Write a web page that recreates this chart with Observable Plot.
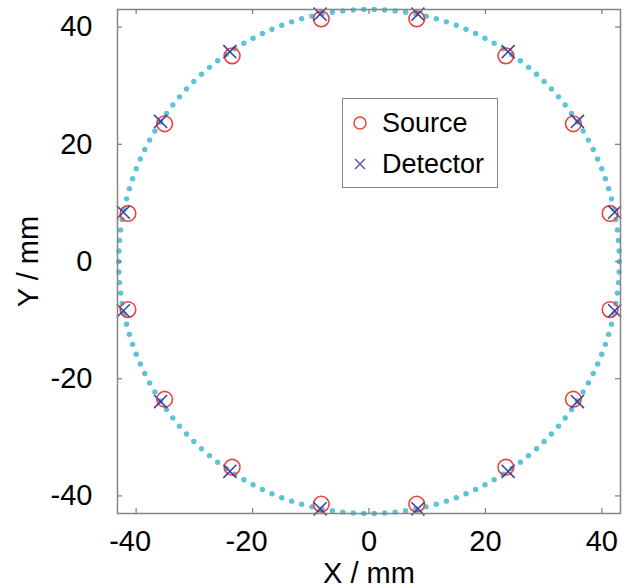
<!DOCTYPE html>
<html>
<head>
<meta charset="utf-8">
<script src="https://cdn.jsdelivr.net/npm/d3@7"></script>
<script src="https://cdn.jsdelivr.net/npm/@observablehq/plot@0.6"></script>
<style>
  html, body { margin: 0; padding: 0; background: #fff; }
  #wrap { position: relative; width: 627px; height: 588px; font-family: "Liberation Sans", Arial, Helvetica, sans-serif; }
  #legend { position: absolute; left: 342px; top: 98px; width: 154px; height: 88px; border: 1.5px solid #858585; background: #fff; box-sizing: content-box; }
  #legend .row { position: absolute; left: 0; height: 30px; display: flex; align-items: center; font-size: 27px; color: #000; }
  #legend svg { position: absolute; left: 9px; }
  #legend span { position: absolute; left: 39px; white-space: nowrap; }
</style>
</head>
<body>
<div id="wrap">
  <div id="chart"></div>
  <div id="legend">
    <div class="row" style="top:9px">
      <svg width="16" height="16" viewBox="-8 -8 16 16"><circle r="6" fill="none" stroke="#e8453f" stroke-width="1.5"/></svg>
      <span>Source</span>
    </div>
    <div class="row" style="top:50px">
      <svg width="16" height="16" viewBox="-8 -8 16 16"><path d="M-5,-5L5,5M-5,5L5,-5" stroke="#5a5ab0" stroke-width="1.5"/></svg>
      <span>Detector</span>
    </div>
  </div>
</div>
<script>
// Source positions (mm)
const sourceX = [41.4, 35.1, 23.5, 8.2, -8.2, -23.5, -35.1, -41.4, -41.4, -35.1, -23.5, -8.2, 8.2, 23.5, 35.1, 41.4];
const sourceY = [8.2, 23.5, 35.1, 41.4, 41.4, 35.1, 23.5, 8.2, -8.2, -23.5, -35.1, -41.4, -41.4, -35.1, -23.5, -8.2];
// Detector positions (mm)
const detectorX = [42.2, 35.8, 23.9, 8.4, -8.4, -23.9, -35.8, -42.2, -42.2, -35.8, -23.9, -8.4, 8.4, 23.9, 35.8, 42.2];
const detectorY = [8.4, 23.9, 35.8, 42.2, 42.2, 35.8, 23.9, 8.4, -8.4, -23.9, -35.8, -42.2, -42.2, -35.8, -23.9, -8.4];
// Ring of the scanner (radius in mm, dot step in degrees)
const ringRadius = 43;
const ringStepDeg = 2.4;
// Tick labels
const xTicksNeg = [-40, -20];
const xTicksPos = [0, 20, 40];
const xTicks = [-40, -20, 0, 20, 40];
const yTicks = [-40, -20, 0, 20, 40];

const ring = d3.range(0, 360, ringStepDeg).map(a => ({
  x: ringRadius * Math.cos(a * Math.PI / 180),
  y: ringRadius * Math.sin(a * Math.PI / 180)
}));
const sources = sourceX.map((x, i) => ({x, y: sourceY[i]}));
const detectors = detectorX.map((x, i) => ({x, y: detectorY[i]}));

const W = 627, H = 588;
const mL = 117, mR = 7, mT = 9, mB = 75;
const innerW = W - mL - mR, innerH = H - mT - mB;
const tickLen = 5;
const tickColor = "#7a7a7a";
const FS = 29;

const chart = Plot.plot({
  width: W,
  height: H,
  marginLeft: mL,
  marginRight: mR,
  marginTop: mT,
  marginBottom: mB,
  style: {fontFamily: '"Liberation Sans", Arial, Helvetica, sans-serif', fontSize: FS + "px", color: "#000", background: "#fff"},
  x: {domain: [-43.2, 43.2]},
  y: {domain: [-43, 43]},
  marks: [
    Plot.dot(ring, {x: "x", y: "y", r: 2.7, fill: "#5cc3d8", stroke: "none"}),
    Plot.dot(sources, {x: "x", y: "y", r: 7.8, stroke: "#e8453f", strokeWidth: 1.6, fill: "none"}),
    Plot.dot(detectors, {x: "x", y: "y", symbol: "times", r: 6, stroke: "#3f3f9c", strokeWidth: 1.6}),
    // inward ticks on all four sides
    Plot.tickX(xTicks, {x: d => d, insetTop: innerH - tickLen, stroke: tickColor, strokeWidth: 1.2}),
    Plot.tickX(xTicks, {x: d => d, insetBottom: innerH - tickLen, stroke: tickColor, strokeWidth: 1.2}),
    Plot.tickY(yTicks, {y: d => d, insetRight: innerW - tickLen, stroke: tickColor, strokeWidth: 1.2}),
    Plot.tickY(yTicks, {y: d => d, insetLeft: innerW - tickLen, stroke: tickColor, strokeWidth: 1.2}),
    Plot.frame({stroke: "#858585", strokeWidth: 1.5}),
    Plot.axisX({ticks: xTicksNeg, tickSize: 0, tickPadding: 17, tickFormat: d => String(d), dx: -6,
      label: null, fontSize: FS}),
    Plot.axisX({ticks: xTicksPos, tickSize: 0, tickPadding: 17, tickFormat: d => String(d),
      label: "X / mm", labelAnchor: "center", labelArrow: "none", labelOffset: 69, fontSize: FS}),
    Plot.axisY({ticks: yTicks, tickSize: 0, tickPadding: 25, tickFormat: d => String(d),
      label: "Y / mm", labelAnchor: "center", labelArrow: "none", labelOffset: 100, fontSize: FS})
  ]
});
document.getElementById("chart").appendChild(chart);
</script>
</body>
</html>
